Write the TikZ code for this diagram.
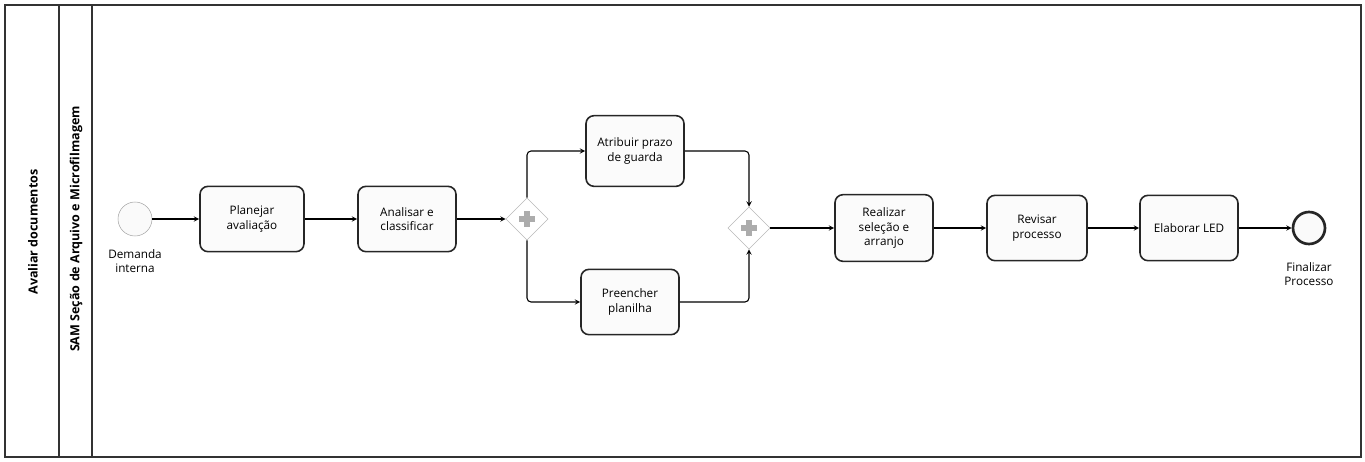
\documentclass[tikz,border=0pt]{standalone}
\usepackage{fontspec}
\setmainfont{Open Sans}
\usetikzlibrary{shapes.geometric, arrows}
\tikzstyle{task} = [rectangle, rounded corners=6pt, minimum width=73.5pt, minimum height=49pt, text centered, align=center, line width=1.2pt, draw=black!85, fill=gray!3, font=\fontsize{8.8}{11}\selectfont]
\tikzstyle{startev} = [shape=circle, minimum size=25.5pt, inner sep=0, draw=gray!70, fill=gray!4]
\tikzstyle{endev} = [shape=circle, minimum size=24pt, inner sep=0, line width=2pt, draw=black!85, fill=gray!4]
\tikzstyle{gate} = [diamond, minimum width=31.5pt, minimum height=31.5pt, inner sep=0, draw=gray!55, fill=white]
\tikzstyle{evlabel} = [align=center, font=\fontsize{8.8}{10.5}\selectfont]
\tikzstyle{arrow} = [thick,->,>=stealth]
\tikzstyle{lane} = [rotate=90, font=\fontsize{9.4}{11}\selectfont\bfseries]

\begin{document}
\begin{tikzpicture}[x=0.75pt,y=-0.75pt]
\useasboundingbox (0,0) rectangle (1365,461);
% pool and lane
\draw[thick,black!80] (5,5) rectangle (1361,457);
\draw[thick,black!80] (59,5)--(59,457);
\draw[thick,black!80] (92,5)--(92,457);
\node[lane] (pool) at (33,232) {Avaliar documentos};
\node[lane] (sam) at (76,229) {SAM Seção de Arquivo e Microfilmagem};

% events and tasks
\node[startev] (inicio) at (135,219) {};
\node[evlabel] (demanda) at (135,261) {Demanda\\interna};
\node[task, minimum width=78pt] (planejar) at (252,219) {Planejar\\avaliação};
\node[task] (analisar) at (407,219) {Analisar e\\classificar};
\node[gate] (g1) at (527,219) {};
\node[task, minimum height=53pt] (atribuir) at (635,151) {Atribuir prazo\\de guarda};
\node[task] (preencher) at (630,302) {Preencher\\planilha};
\node[gate] (g2) at (749,228) {};
\node[task, minimum height=50pt] (realizar) at (884,228) {Realizar\\seleção e\\arranjo};
\node[task, minimum width=75pt] (revisar) at (1037,228) {Revisar\\processo};
\node[task] (elaborar) at (1189,228) {Elaborar LED};
\node[endev] (fim) at (1309,228) {};
\node[evlabel] (finalizar) at (1309,274) {Finalizar\\Processo};

% plus signs in the gateways
\foreach \g in {g1,g2}{
	\draw[gray!65, line width=4.5pt] (\g.center) +(-8,0) -- +(8,0);
	\draw[gray!65, line width=4.5pt] (\g.center) +(0,-8) -- +(0,8);
}

% flows
\draw[arrow] (inicio) -- (planejar);
\draw[arrow] (planejar) -- (analisar);
\draw[arrow] (analisar) -- (g1);
\draw[arrow, rounded corners=3pt] (g1.north) |- (atribuir.west);
\draw[arrow, rounded corners=3pt] (g1.south) |- (preencher.west);
\draw[arrow, rounded corners=3pt] (atribuir.east) -| (g2.north);
\draw[arrow, rounded corners=3pt] (preencher.east) -| (g2.south);
\draw[arrow] (g2) -- (realizar);
\draw[arrow] (realizar) -- (revisar);
\draw[arrow] (revisar) -- (elaborar);
\draw[arrow] (elaborar) -- (fim);
\end{tikzpicture}
\end{document}
